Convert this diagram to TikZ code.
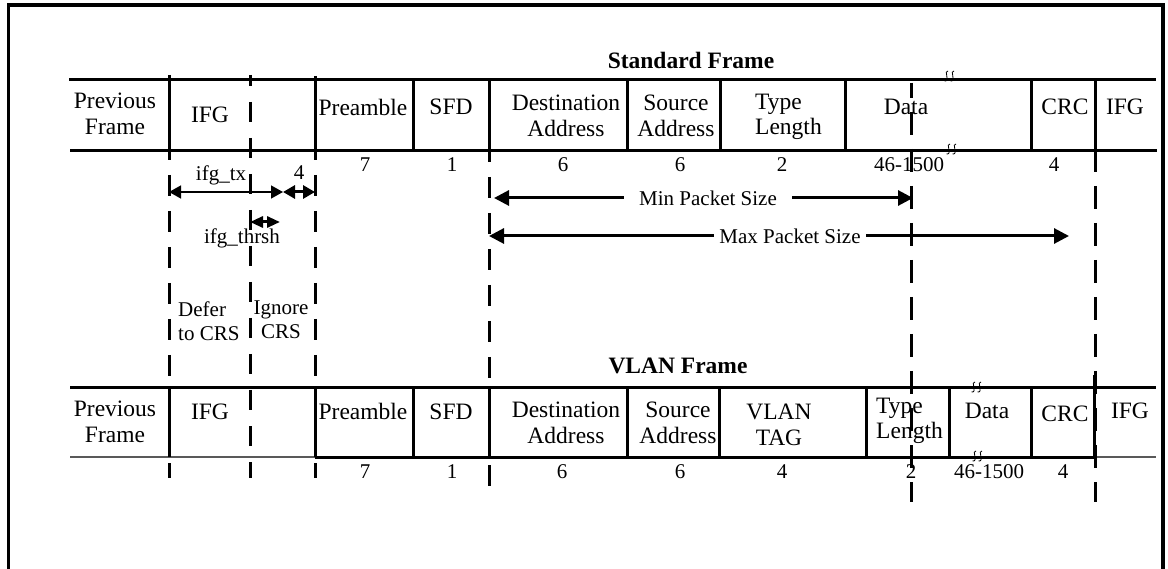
\documentclass[tikz,border=0pt]{standalone}
\usepackage{fontspec}
\setmainfont{Liberation Serif}
\usetikzlibrary{arrows.meta}
\begin{document}
\begin{tikzpicture}[x=1pt,y=-1pt,
  rowline/.style={line width=3pt},
  thinrow/.style={line width=1.4pt,black!65},
  cellline/.style={line width=3pt},
  guide/.style={line width=3pt,dash pattern=on 21pt off 15pt},
  guidec/.style={line width=3pt,dash pattern=on 20pt off 16pt},
  guideb/.style={line width=3pt,dash pattern=on 23pt off 14pt},
  lbl/.style={font=\fontsize{23.5}{25.5}\selectfont,inner sep=0pt,align=center},
  ann/.style={font=\fontsize{21}{24}\selectfont,inner sep=0pt,align=center},
  ttl/.style={font=\fontsize{23.5}{26}\selectfont\bfseries,inner sep=0pt},
  bigdim/.style={line width=3pt,{Triangle[length=15pt,width=15pt]}-{Triangle[length=15pt,width=15pt]}},
  txdim/.style={line width=1.4pt,{Triangle[length=12pt,width=13pt]}-{Triangle[length=12pt,width=13pt]}},
  fourdim/.style={line width=3pt,{Triangle[length=12pt,width=13pt]}-{Triangle[length=12pt,width=13pt]}},
  thrdim/.style={line width=3pt,{Triangle[length=13pt,width=11pt]}-{Triangle[length=13pt,width=11pt]}},
  brk/.pic={\draw[line width=0.8pt] (-1,-5) .. controls (-6,-6) and (2,6) .. (-4.5,5);
            \draw[line width=0.8pt] (5,-5) .. controls (0,-6) and (8,6) .. (1.5,5);}
]
\useasboundingbox (0,0) rectangle (1168,569);
% outer frame
\draw[line width=3.5pt] (8.5,569) -- (8.5,5) -- (1163,5) -- (1163,569);

% titles
\node[ttl] (tstd) at (691,60) {Standard Frame};
\node[ttl] (tvlan) at (678,366) {VLAN Frame};

% standard row
\draw[rowline] (69,80) -- (1156,80);
\draw[rowline] (70,151) -- (1157,151);
\foreach \xx in {413,489,627,720,845,1031,1095} \draw[cellline] (\xx,80) -- (\xx,151);
\draw[cellline] (169,75) -- (169,160);
\draw[cellline] (315,76) -- (315,160);

\node[lbl] (sprev) at (115,114) {Previous\\Frame};
\node[lbl] (sifg) at (210,115) {IFG};
\node[lbl] (spre) at (363,107) {Preamble};
\node[lbl] (ssfd) at (451,107) {SFD};
\node[lbl] (sdst) at (566,116) {Destination\\Address};
\node[lbl] (ssrc) at (676,116) {Source\\Address};
\node[lbl,align=left,anchor=west] (stype) at (755,117) {Type\\Length};
\node[lbl] (sdata) at (906,107) {Data};
\node[lbl] (scrc) at (1065,107) {CRC};
\node[lbl] (sifgb) at (1125,107) {IFG};

\node[ann] (sn1) at (365,165) {7};
\node[ann] (sn2) at (452,165) {1};
\node[ann] (sn3) at (563,165) {6};
\node[ann] (sn4) at (680,165) {6};
\node[ann] (sn5) at (782,165) {2};
\node[ann] (sn6) at (909,165) {46-1500};
\node[ann] (sn7) at (1054,165) {4};

% VLAN row
\draw[rowline] (70,388) -- (1156,388);
\draw[thinrow] (70,457) -- (315,457);
\draw[rowline] (315,457) -- (1094,457);
\draw[thinrow] (1094,457) -- (1156,457);
\foreach \xx in {169,315,413,489,627,719,866,949,1031} \draw[cellline] (\xx,388) -- (\xx,457);
\draw[cellline] (1094,375) -- (1094,457);

\node[lbl] (vprev) at (115,422) {Previous\\Frame};
\node[lbl] (vifg) at (210,412) {IFG};
\node[lbl] (vpre) at (363,411) {Preamble};
\node[lbl] (vsfd) at (451,412) {SFD};
\node[lbl] (vdst) at (566,423) {Destination\\Address};
\node[lbl] (vsrc) at (678,423) {Source\\Address};
\node[lbl] (vtag) at (779,425) {VLAN\\TAG};
\node[lbl,align=left,anchor=west] (vtype) at (876,421) {Type\\Length};
\node[lbl] (vdata) at (987,411) {Data};
\node[lbl] (vcrc) at (1065,414) {CRC};
\node[lbl] (vifgb) at (1130,411) {IFG};

\node[ann] (vn1) at (365,472) {7};
\node[ann] (vn2) at (452,472) {1};
\node[ann] (vn3) at (562,472) {6};
\node[ann] (vn4) at (680,472) {6};
\node[ann] (vn5) at (782,472) {4};
\node[ann] (vn6) at (911,472) {2};
\node[ann] (vn7) at (989,472) {46-1500};
\node[ann] (vn8) at (1063,472) {4};

% break marks
\pic at (949,76) {brk};
\pic at (951,149) {brk};
\pic at (976,387) {brk};
\pic at (977,456) {brk};

% dashed guides
\draw[guide,dash phase=21pt] (169,160) -- (169,478);
\draw[guidec,dash phase=9pt] (250,75) -- (250,478);
\draw[guide,dash phase=21pt] (315,160) -- (315,478);
\draw[guide,dash phase=10pt] (489,151) -- (489,490);
\draw[guideb,dash phase=8pt] (911,83) -- (911,502);
\draw[guideb,dash phase=2pt] (1095,151) -- (1095,502);

% IFG annotations
\coordinate (txa) at (169,192);
\coordinate (txb) at (283,192);
\coordinate (fb) at (315,192);
\draw[txdim] (txa) -- (txb);
\draw[fourdim] (txb) -- (fb);
\node[ann] (ltx) at (221,175) {ifg\_tx};
\node[ann] (lfour) at (299,173) {4};
\coordinate (tha) at (250,222);
\coordinate (thb) at (280,222);
\draw[thrdim] (tha) -- (thb);
\node[ann] (lthr) at (242,238) {ifg\_thrsh};
\node[ann,align=left,anchor=west] (ldefer) at (178,321) {Defer\\to CRS};
\node[ann] (lignore) at (281,320) {Ignore\\CRS};

% packet size arrows
\coordinate (mina) at (494,198);
\coordinate (minb) at (913,198);
\draw[bigdim] (mina) -- (minb);
\node[ann,fill=white,inner xsep=15pt,inner ysep=1pt] (lmin) at (708,198) {Min Packet Size};
\coordinate (maxa) at (489,236);
\coordinate (maxb) at (1069,236);
\draw[bigdim] (maxa) -- (maxb);
\node[ann,fill=white,inner xsep=5pt,inner ysep=1pt] (lmax) at (790,236) {Max Packet Size};
\end{tikzpicture}
\end{document}
